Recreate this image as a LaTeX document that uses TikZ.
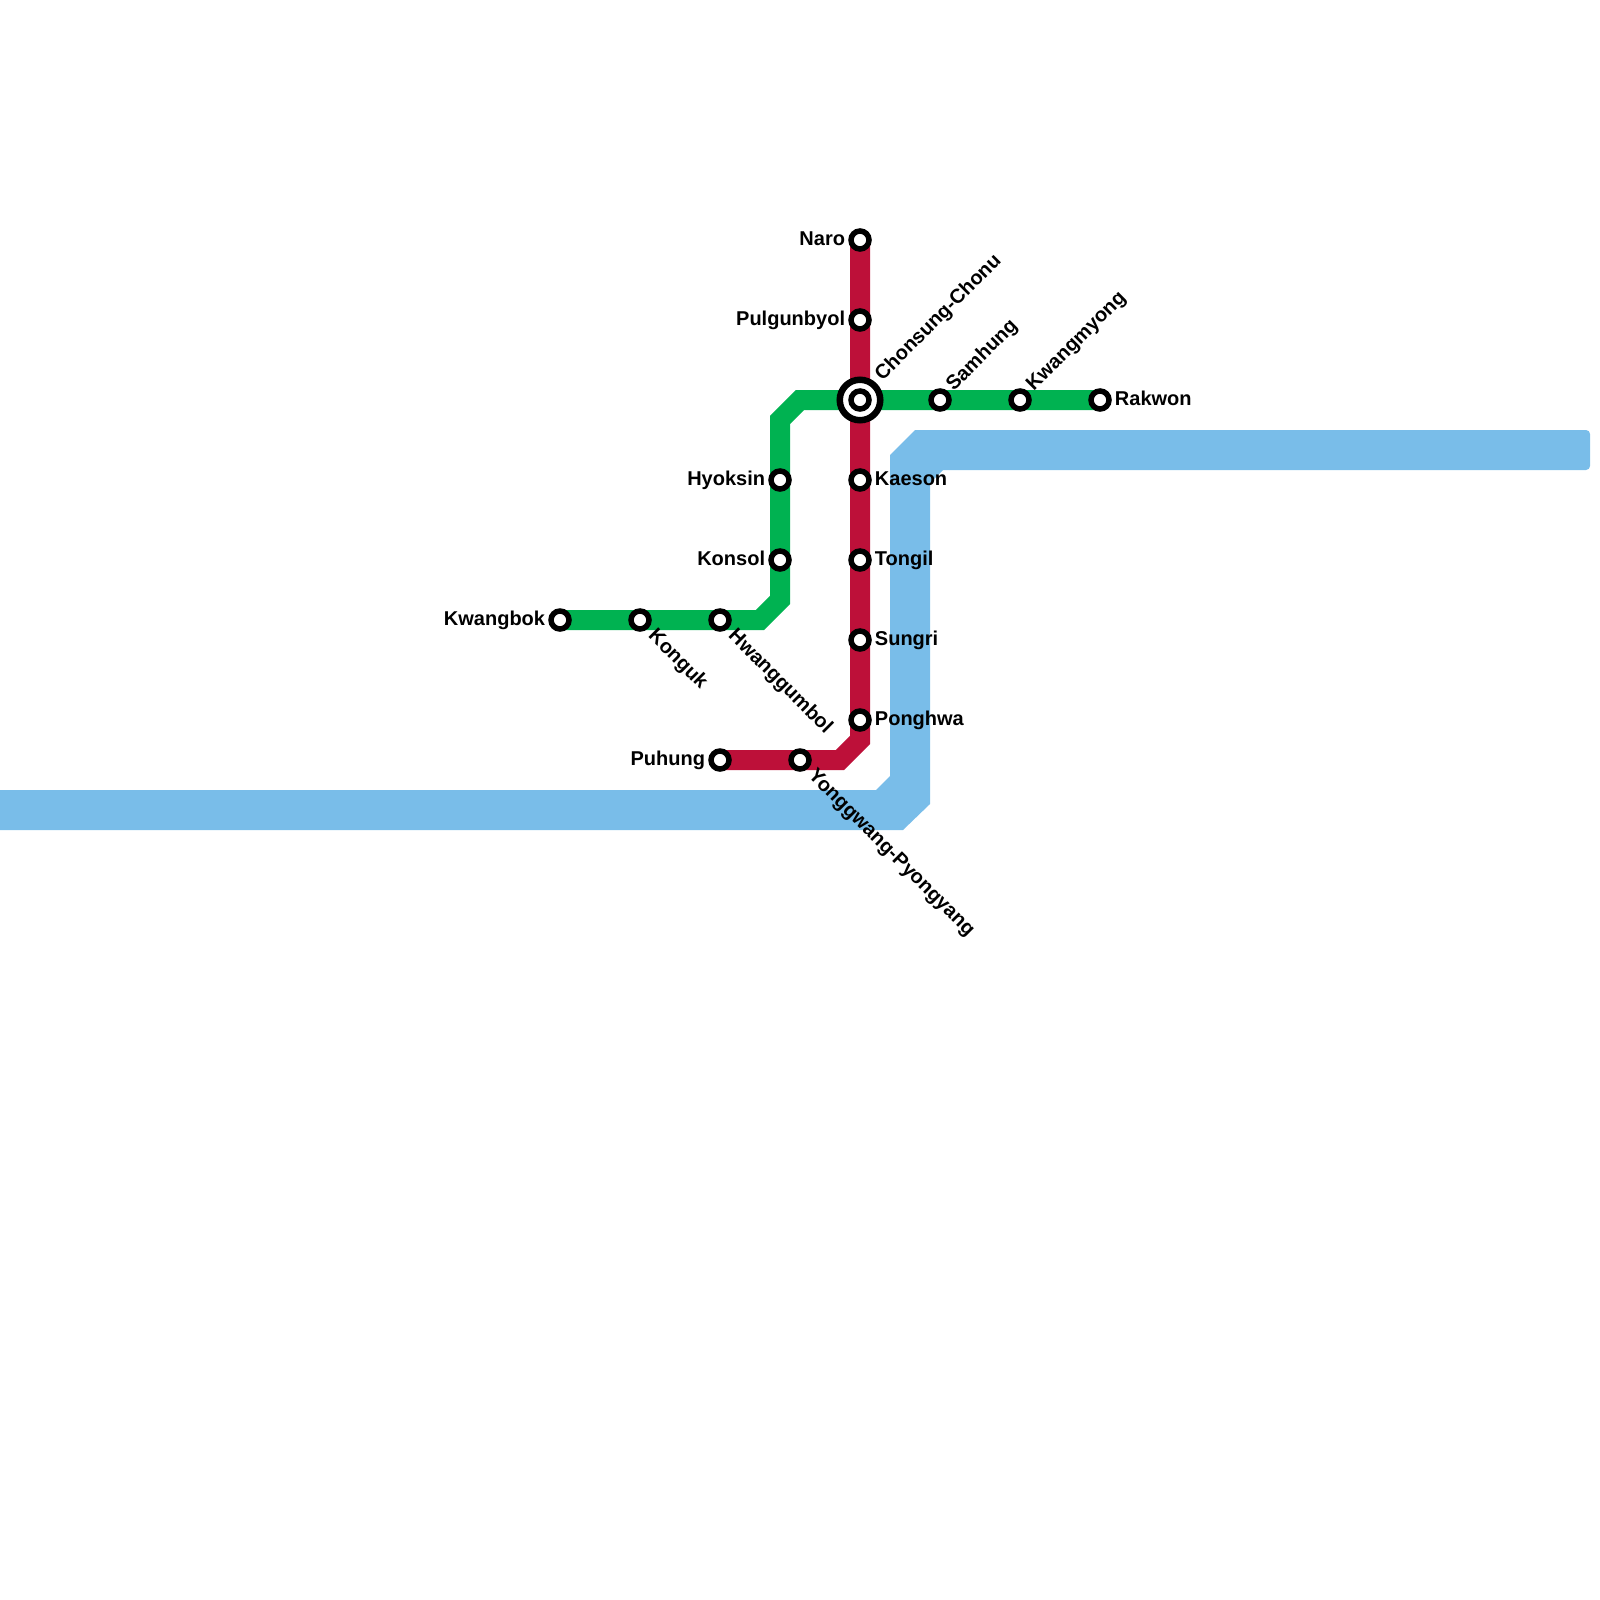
\documentclass[tikz,border=0pt]{standalone}
\usepackage{fontspec}
\setmainfont{Liberation Sans}
\usetikzlibrary{positioning}
\begin{document}
\begin{tikzpicture}[x=1pt,y=-1pt]
	\tikzset{station/.style = {shape=circle, draw=black, fill=white, line width=5.5pt, inner sep=0pt, minimum size=18pt}}
	\tikzset{hub/.style = {shape=circle, draw=black, fill=white, line width=6.5pt, inner sep=0pt, minimum size=40.5pt}}
	\tikzset{lbl/.style = {font=\bfseries\fontsize{20}{22}\selectfont, inner sep=0pt, text height=14pt, text depth=4.5pt, yshift=-1pt}}
	\tikzset{every label/.style = {lbl}, label distance=3pt}
	\tikzset{slantup/.style = {rotate=45, anchor=west, xshift=2.5pt, yshift=-0.5pt}}
	\tikzset{slantdown/.style = {rotate=-45, anchor=west, xshift=2.5pt, yshift=1pt}}
	\tikzset{redline/.style = {draw={rgb,255:red,189;green,16;blue,57}, line width=20pt}}
	\tikzset{greenline/.style = {draw={rgb,255:red,0;green,178;blue,81}, line width=20pt}}
	\tikzset{river/.style = {fill={rgb,255:red,121;green,189;blue,233}}}
	\useasboundingbox (0,0) rectangle (1600,1600);

	% river
	\fill[river] (-5,790) -- (876,790) -- (890,776) -- (890,455) -- (915,430) [rounded corners=4pt] -- (1590,430) -- (1590,470) [sharp corners] -- (943,470) -- (930,483) -- (930,804) -- (903,830) -- (-5,830) -- cycle;

	% red line
	\coordinate (redbendA) at (840,760);
	\coordinate (redbendB) at (860,740);
	\coordinate (naropt) at (860,240);
	\coordinate (puhungpt) at (720,760);
	\draw[redline] (naropt) -- (redbendB) -- (redbendA) -- (puhungpt);

	% green line
	\coordinate (greenbendA) at (760,620);
	\coordinate (greenbendB) at (780,600);
	\coordinate (greenbendC) at (780,420);
	\coordinate (greenbendD) at (800,400);
	\coordinate (kwangbokpt) at (560,620);
	\coordinate (rakwonpt) at (1100,400);
	\draw[greenline] (kwangbokpt) -- (greenbendA) -- (greenbendB) -- (greenbendC) -- (greenbendD) -- (rakwonpt);

	% stations
	\node[station, label={left:Naro}] (naro) at (naropt) {};
	\node[station, label={left:Pulgunbyol}] (pulgunbyol) at (860,320) {};
	\node[hub, label={[slantup,xshift=1.5pt,yshift=1pt]45:Chonsung-Chonu}] (chonsunghub) at (860,400) {};
	\node[station] (chonsung) at (860,400) {};
	\node[station, label={right:Kaeson}] (kaeson) at (860,480) {};
	\node[station, label={right:Tongil}] (tongil) at (860,560) {};
	\node[station, label={right:Sungri}] (sungri) at (860,640) {};
	\node[station, label={right:Ponghwa}] (ponghwa) at (860,720) {};
	\node[station, label={left:Puhung}] (puhung) at (puhungpt) {};
	\node[station, label={[slantdown]-45:Yonggwang-Pyongyang}] (yonggwang) at (800,760) {};
	\node[station, label={left:Kwangbok}] (kwangbok) at (kwangbokpt) {};
	\node[station, label={[slantdown]-45:Konguk}] (konguk) at (640,620) {};
	\node[station, label={[slantdown]-45:Hwanggumbol}] (hwanggumbol) at (720,620) {};
	\node[station, label={left:Hyoksin}] (hyoksin) at (780,480) {};
	\node[station, label={left:Konsol}] (konsol) at (780,560) {};
	\node[station, label={[slantup]45:Samhung}] (samhung) at (940,400) {};
	\node[station, label={[slantup]45:Kwangmyong}] (kwangmyong) at (1020,400) {};
	\node[station, label={right:Rakwon}] (rakwon) at (rakwonpt) {};
\end{tikzpicture}
\end{document}
